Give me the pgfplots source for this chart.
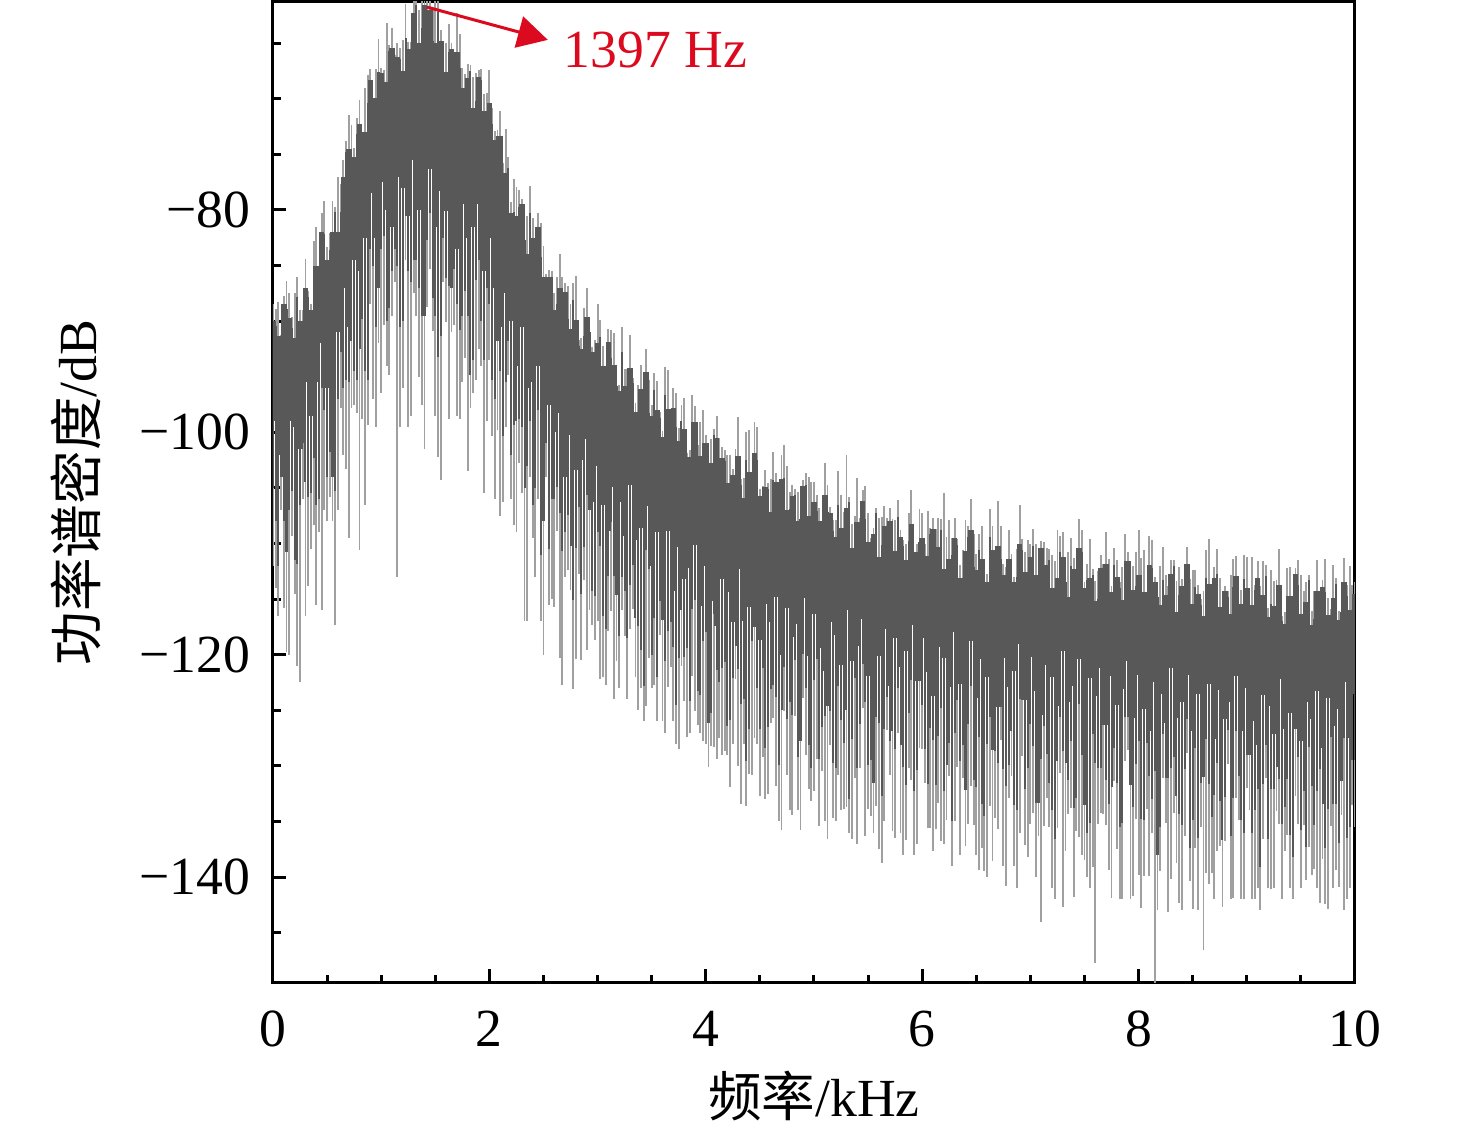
\documentclass[border=0pt]{standalone}
\usepackage{fontspec}
\setmainfont{Liberation Serif}
\newfontfamily\cjk{Noto Sans CJK SC}
\usepackage{pgfplots}
\usepackage{pgfplotstable}
\pgfplotsset{compat=1.18}
\usetikzlibrary{arrows.meta}
\definecolor{band}{RGB}{88,88,88}
\definecolor{spk}{RGB}{160,160,160}
\definecolor{annot}{RGB}{220,10,30}
\newcommand{\fs}{\fontsize{14.3}{17}\selectfont}
% u: top of solid band, s: bottom of solid band, f: dark fragment tip, t/b: light spike tips
\pgfplotstableread{
x u s f t b
0.00 -90.0 -99.0 -105.0 -88.5 -112.0
0.05 -91.3 -102.0 -112.0 -88.3 -116.5
0.10 -88.5 -104.0 -108.0 -87.7 -115.8
0.15 -89.7 -99.0 -107.0 -87.5 -120.0
0.20 -91.5 -99.5 -111.5 -87.5 -114.5
0.25 -90.0 -101.5 -106.5 -89.0 -122.5
0.30 -87.0 -95.5 -104.5 -84.4 -116.5
0.35 -89.0 -98.5 -105.5 -88.5 -110.5
0.40 -85.0 -95.5 -106.5 -81.5 -115.5
0.45 -82.0 -92.0 -96.0 -80.3 -116.0
0.50 -84.5 -96.0 -104.0 -83.3 -108.0
0.55 -82.0 -91.0 -104.0 -79.2 -108.0
0.60 -82.0 -91.0 -97.0 -77.0 -107.0
0.65 -77.0 -87.0 -96.0 -75.5 -102.0
0.70 -74.5 -90.5 -95.5 -71.5 -109.5
0.75 -75.2 -84.5 -94.5 -74.4 -97.5
0.80 -72.3 -85.5 -92.5 -70.1 -110.6
0.85 -73.0 -82.5 -94.5 -69.0 -106.5
0.90 -68.3 -78.5 -83.5 -67.3 -88.5
0.95 -69.9 -82.5 -90.5 -67.3 -99.5
1.00 -67.7 -77.5 -83.5 -67.2 -96.5
1.05 -68.5 -80.0 -90.0 -63.2 -94.0
1.10 -65.4 -81.5 -85.5 -63.6 -89.5
1.15 -66.2 -77.0 -85.0 -65.0 -113.0
1.20 -67.5 -78.0 -90.0 -64.7 -96.0
1.25 -65.5 -80.5 -85.5 -64.9 -99.5
1.30 -62.3 -75.5 -84.5 -60.8 -87.5
1.35 -65.0 -80.0 -87.0 -62.0 -95.0
1.40 -61.6 -78.5 -89.5 -60.0 -101.5
1.45 -62.0 -76.3 -80.3 -60.0 -85.3
1.50 -65.0 -81.5 -89.5 -61.0 -98.5
1.55 -64.8 -78.3 -91.3 -63.8 -104.3
1.60 -67.6 -80.1 -86.1 -65.0 -90.1
1.65 -65.5 -78.0 -87.0 -65.0 -91.0
1.70 -65.8 -83.5 -88.5 -62.3 -98.5
1.75 -69.0 -79.5 -89.5 -67.2 -95.5
1.80 -68.1 -82.5 -89.5 -66.9 -103.5
1.85 -70.8 -81.5 -93.5 -68.0 -96.5
1.90 -68.0 -79.5 -84.5 -67.4 -92.5
1.95 -71.1 -85.5 -93.5 -69.6 -105.5
2.00 -70.4 -82.5 -88.5 -67.4 -93.5
2.05 -73.7 -87.0 -97.0 -72.9 -106.0
2.10 -73.3 -90.5 -94.5 -71.1 -107.5
2.15 -76.7 -87.5 -95.5 -72.7 -99.5
2.20 -80.3 -90.0 -102.0 -79.3 -106.0
2.25 -80.5 -94.0 -99.0 -77.9 -109.0
2.30 -79.5 -90.5 -99.5 -79.0 -105.5
2.35 -84.0 -96.0 -103.0 -80.5 -117.0
2.40 -82.5 -95.5 -106.5 -80.7 -109.5
2.45 -81.5 -94.0 -98.0 -80.3 -106.0
2.50 -86.0 -100.0 -108.0 -83.2 -120.0
2.55 -86.0 -97.5 -110.5 -85.4 -115.5
2.60 -89.0 -100.0 -106.0 -87.5 -115.7
2.65 -87.0 -98.3 -107.3 -84.0 -120.3
2.70 -87.4 -104.0 -109.0 -86.6 -113.0
2.75 -90.7 -100.2 -110.2 -88.5 -114.2
2.80 -89.9 -103.4 -110.4 -85.9 -120.4
2.85 -92.5 -102.5 -114.5 -91.5 -120.5
2.90 -89.6 -100.6 -105.6 -87.0 -119.6
2.95 -92.8 -106.3 -114.3 -92.3 -117.3
3.00 -92.0 -103.0 -109.0 -88.5 -117.0
3.05 -94.0 -106.5 -116.5 -92.2 -122.0
3.10 -91.9 -108.9 -112.9 -90.7 -117.9
3.15 -93.9 -104.9 -112.9 -91.1 -124.0
3.20 -96.3 -106.3 -118.3 -95.7 -123.0
3.25 -95.8 -109.3 -114.3 -94.3 -118.3
3.30 -94.2 -104.7 -113.7 -91.2 -117.7
3.35 -98.2 -109.7 -116.7 -97.4 -122.0
3.40 -96.1 -108.6 -119.6 -93.9 -123.0
3.45 -94.6 -106.6 -110.6 -92.5 -124.6
3.50 -98.5 -112.0 -120.0 -97.5 -123.0
3.55 -98.0 -109.0 -122.0 -95.4 -126.0
3.60 -100.4 -110.9 -116.9 -99.9 -126.0
3.65 -97.9 -108.9 -117.9 -94.4 -122.9
3.70 -97.8 -114.3 -119.3 -96.0 -126.0
3.75 -100.8 -110.3 -120.3 -99.6 -128.5
3.80 -99.7 -113.2 -120.2 -96.9 -124.2
3.85 -102.2 -112.2 -124.2 -101.6 -127.0
3.90 -99.1 -110.1 -115.1 -97.6 -125.1
3.95 -102.1 -115.6 -123.6 -99.1 -127.0
4.00 -101.0 -112.0 -118.0 -100.2 -128.0
4.05 -102.8 -115.2 -125.2 -100.6 -128.2
4.10 -100.5 -117.4 -121.4 -98.5 -129.4
4.15 -102.3 -113.2 -121.2 -101.3 -129.0
4.20 -104.6 -114.4 -126.4 -102.0 -129.0
4.25 -103.8 -117.1 -122.1 -103.3 -128.0
4.30 -102.1 -112.3 -121.3 -98.6 -130.0
4.35 -105.9 -117.0 -124.0 -104.1 -128.0
4.40 -103.6 -115.7 -126.7 -99.8 -130.7
4.45 -101.9 -113.5 -117.5 -99.1 -127.5
4.50 -105.7 -118.7 -126.7 -105.1 -132.7
4.55 -104.9 -115.4 -128.4 -103.4 -133.0
4.60 -107.2 -117.1 -123.1 -104.2 -126.1
4.65 -104.5 -114.8 -123.8 -103.7 -131.8
4.70 -104.2 -120.0 -125.0 -102.0 -135.8
4.75 -107.0 -115.8 -125.8 -103.0 -130.8
4.80 -105.7 -118.4 -125.4 -104.7 -134.4
4.85 -108.0 -117.2 -129.2 -105.4 -134.0
4.90 -104.8 -114.9 -119.9 -104.3 -123.9
4.95 -107.5 -120.1 -128.1 -104.0 -132.1
5.00 -106.3 -116.3 -122.3 -104.5 -132.3
5.05 -108.0 -119.4 -129.4 -106.8 -135.4
5.10 -105.6 -121.5 -125.5 -102.8 -135.0
5.15 -107.3 -117.1 -125.1 -106.7 -128.1
5.20 -109.4 -118.2 -130.2 -107.9 -135.0
5.25 -108.6 -120.9 -125.9 -105.6 -134.0
5.30 -106.8 -116.0 -125.0 -102.0 -133.7
5.35 -110.4 -120.6 -127.6 -108.2 -136.6
5.40 -108.1 -119.2 -130.2 -104.1 -137.0
5.45 -106.2 -116.8 -120.8 -105.2 -124.8
5.50 -109.9 -121.9 -129.9 -107.3 -133.9
5.55 -109.1 -118.5 -131.5 -108.6 -136.0
5.60 -111.2 -120.1 -126.1 -107.7 -137.5
5.65 -108.4 -117.7 -126.7 -106.6 -135.0
5.70 -108.0 -122.8 -127.8 -106.8 -130.8
5.75 -110.7 -118.5 -128.5 -107.9 -136.5
5.80 -109.4 -121.1 -128.1 -108.8 -136.0
5.85 -111.5 -119.7 -131.7 -110.0 -136.7
5.90 -108.2 -117.3 -122.3 -105.2 -131.3
5.95 -110.8 -122.4 -130.4 -110.0 -137.0
6.00 -109.5 -118.5 -124.5 -107.3 -128.5
6.05 -111.1 -121.6 -131.6 -107.1 -135.6
6.10 -108.7 -123.7 -127.7 -107.7 -137.7
6.15 -110.3 -119.3 -127.3 -107.7 -133.3
6.20 -112.3 -120.3 -132.3 -105.5 -137.0
6.25 -111.4 -122.9 -127.9 -107.9 -130.9
6.30 -109.5 -118.0 -127.0 -107.7 -135.0
6.35 -113.1 -122.6 -129.6 -111.9 -138.0
6.40 -110.7 -121.2 -132.2 -107.9 -137.2
6.45 -108.8 -118.8 -122.8 -106.0 -131.8
6.50 -112.4 -123.9 -131.9 -110.9 -138.0
6.55 -111.4 -120.4 -133.4 -108.4 -137.4
6.60 -113.5 -122.0 -128.0 -112.7 -140.0
6.65 -110.6 -119.6 -128.6 -108.4 -138.6
6.70 -110.2 -124.7 -129.7 -106.2 -135.7
6.75 -112.8 -120.3 -130.3 -111.8 -139.0
6.80 -111.4 -122.9 -129.9 -108.8 -132.9
6.85 -113.5 -121.5 -133.5 -113.0 -139.0
6.90 -110.0 -119.0 -124.0 -106.5 -136.0
6.95 -112.6 -124.1 -132.1 -110.8 -137.1
7.00 -111.2 -120.2 -126.2 -110.0 -135.2
7.05 -112.8 -123.3 -133.3 -110.0 -140.0
7.10 -110.4 -125.4 -129.4 -109.8 -144.0
7.15 -111.9 -120.9 -128.9 -110.4 -132.9
7.20 -114.0 -122.0 -134.0 -111.0 -141.0
7.25 -113.1 -124.6 -129.6 -108.8 -135.6
7.30 -111.2 -119.7 -128.7 -109.0 -142.7
7.35 -114.8 -124.3 -131.3 -110.8 -134.3
7.40 -112.3 -122.8 -133.8 -111.3 -141.8
7.45 -110.4 -120.4 -124.4 -107.8 -136.4
7.50 -114.0 -125.5 -133.5 -113.5 -138.5
7.55 -113.1 -122.1 -135.1 -109.6 -141.0
7.60 -115.2 -123.7 -129.7 -113.4 -147.7
7.65 -112.2 -121.2 -130.2 -111.0 -134.2
7.70 -111.8 -126.3 -131.3 -109.0 -135.3
7.75 -114.4 -121.9 -131.9 -113.8 -141.9
7.80 -113.0 -124.5 -131.5 -111.5 -137.5
7.85 -115.1 -123.1 -135.1 -112.1 -142.0
7.90 -111.6 -120.6 -125.6 -110.8 -128.6
7.95 -114.2 -125.7 -133.7 -112.0 -141.7
8.00 -112.8 -121.8 -127.8 -108.8 -139.8
8.05 -114.4 -124.9 -134.9 -110.6 -139.9
8.10 -111.9 -126.9 -130.9 -109.3 -139.9
8.15 -113.5 -122.5 -130.5 -113.0 -152.0
8.20 -115.5 -123.5 -135.5 -112.0 -139.5
8.25 -114.6 -126.1 -131.1 -112.8 -135.1
8.30 -112.7 -121.2 -130.2 -111.5 -140.2
8.35 -116.2 -125.7 -132.7 -113.4 -138.7
8.40 -113.8 -124.3 -135.3 -113.2 -143.0
8.45 -111.8 -121.8 -125.8 -110.3 -128.8
8.50 -115.4 -126.9 -134.9 -112.4 -142.9
8.55 -114.5 -123.5 -136.5 -113.7 -143.0
8.60 -116.5 -125.0 -131.0 -114.3 -146.6
8.65 -113.6 -122.6 -131.6 -109.6 -140.6
8.70 -113.1 -127.6 -132.6 -112.1 -142.0
8.75 -115.7 -123.2 -133.2 -113.1 -137.2
8.80 -114.3 -125.8 -132.8 -113.8 -136.8
8.85 -116.3 -124.3 -136.3 -112.8 -142.0
8.90 -112.9 -121.9 -126.9 -111.1 -132.9
8.95 -115.4 -126.9 -134.9 -114.2 -142.0
9.00 -114.0 -123.0 -129.0 -111.2 -132.0
9.05 -115.5 -126.0 -136.0 -111.2 -142.0
9.10 -113.1 -128.1 -132.1 -111.6 -141.0
9.15 -114.6 -123.6 -131.6 -111.6 -136.6
9.20 -116.6 -124.6 -136.6 -115.8 -141.0
9.25 -115.6 -127.1 -132.1 -113.4 -141.0
9.30 -113.7 -122.2 -131.2 -110.5 -135.2
9.35 -117.2 -126.7 -133.7 -116.2 -137.7
9.40 -114.7 -125.2 -136.2 -112.1 -141.0
9.45 -112.7 -122.7 -126.7 -112.2 -132.7
9.50 -116.3 -127.8 -135.8 -112.8 -141.0
9.55 -115.3 -124.3 -137.3 -113.5 -140.3
9.60 -117.3 -125.8 -131.8 -116.1 -139.8
9.65 -114.3 -123.3 -132.3 -111.5 -141.0
9.70 -113.9 -128.4 -133.4 -113.3 -138.4
9.75 -116.4 -123.9 -133.9 -114.9 -142.9
9.80 -114.9 -126.4 -133.4 -111.9 -141.0
9.85 -116.9 -124.9 -136.9 -116.1 -140.9
9.90 -113.5 -122.5 -127.5 -111.3 -143.0
9.95 -116.0 -127.5 -135.5 -112.0 -141.0
10.00 -114.5 -123.5 -129.5 -113.5 -135.5
}\data
% between the band columns: dark spike hi..lo, light spike lt..lb
\pgfplotstableread{
x hi lo lt lb
0.025 -90.4 -108.0 -88.9 -114.0
0.075 -91.7 -104.0 -91.2 -107.0
0.125 -88.9 -110.8 -86.4 -119.8
0.175 -90.6 -105.3 -89.6 -109.3
0.225 -87.8 -111.8 -86.0 -121.0
0.275 -90.5 -101.0 -89.0 -106.0
0.325 -87.8 -105.8 -87.3 -113.8
0.375 -85.3 -102.3 -82.8 -108.3
0.425 -87.0 -106.0 -86.0 -109.0
0.475 -82.2 -98.0 -79.2 -107.0
0.525 -83.6 -101.8 -82.1 -105.8
0.575 -80.2 -105.3 -79.7 -117.3
0.625 -80.2 -92.8 -77.7 -97.8
0.675 -74.8 -95.3 -73.8 -103.3
0.725 -75.4 -91.8 -72.4 -97.8
0.775 -73.2 -95.3 -71.7 -98.3
0.825 -74.0 -89.8 -73.5 -98.8
0.875 -70.4 -95.3 -67.9 -99.3
0.925 -70.9 -85.0 -69.9 -97.0
0.975 -67.6 -87.0 -64.6 -92.0
1.025 -68.9 -82.3 -67.4 -90.3
1.075 -65.7 -88.8 -65.2 -94.8
1.125 -68.6 -83.5 -66.1 -86.5
1.175 -66.4 -90.5 -65.4 -99.5
1.225 -64.5 -80.5 -61.5 -84.5
1.275 -66.4 -86.5 -64.9 -98.5
1.325 -61.6 -84.5 -61.1 -89.5
1.375 -63.6 -89.5 -61.1 -97.5
1.425 -62.1 -82.7 -61.1 -88.7
1.475 -64.8 -87.9 -61.8 -90.9
1.525 -62.2 -93.2 -60.7 -102.2
1.575 -65.5 -82.5 -65.0 -86.5
1.625 -65.8 -86.8 -63.3 -98.8
1.675 -68.7 -85.3 -67.7 -90.3
1.725 -67.2 -90.8 -64.2 -98.8
1.775 -69.3 -87.3 -67.8 -93.3
1.825 -67.5 -94.8 -67.0 -97.8
1.875 -70.2 -86.3 -67.7 -95.3
1.925 -68.3 -90.0 -67.3 -94.0
1.975 -72.5 -87.0 -69.5 -99.0
2.025 -72.3 -95.3 -70.8 -100.3
2.075 -73.3 -91.8 -72.8 -99.8
2.125 -78.3 -100.3 -75.8 -106.3
2.175 -76.2 -91.8 -75.2 -94.8
2.225 -80.2 -99.3 -77.2 -108.3
2.275 -79.7 -98.8 -78.2 -102.8
2.325 -82.7 -105.0 -82.2 -117.0
2.375 -80.3 -99.0 -77.8 -104.0
2.425 -83.8 -105.0 -82.8 -113.0
2.475 -84.2 -111.0 -81.2 -117.0
2.525 -87.3 -101.0 -85.8 -104.0
2.575 -86.0 -106.0 -85.5 -115.0
2.625 -88.5 -104.9 -86.0 -108.9
2.675 -87.0 -110.7 -86.0 -122.7
2.725 -89.8 -107.4 -86.8 -112.4
2.775 -88.1 -115.1 -86.6 -123.1
2.825 -92.2 -106.7 -91.7 -112.7
2.875 -91.3 -110.3 -88.8 -113.3
2.925 -91.0 -107.0 -90.0 -116.0
2.975 -94.7 -114.7 -91.7 -118.7
3.025 -91.4 -110.2 -89.9 -122.2
3.075 -94.5 -117.7 -94.0 -122.7
3.125 -93.3 -108.1 -90.8 -116.1
3.175 -95.8 -114.6 -94.8 -120.6
3.225 -92.8 -113.0 -90.5 -116.0
3.275 -95.8 -118.5 -94.3 -124.0
3.325 -95.6 -111.9 -95.1 -115.9
3.375 -98.2 -117.4 -95.7 -125.0
3.425 -96.3 -122.8 -95.3 -126.0
3.475 -98.3 -112.3 -95.3 -120.3
3.525 -96.2 -116.7 -94.7 -122.7
3.575 -98.7 -115.2 -98.2 -118.2
3.625 -96.6 -120.6 -94.1 -127.0
3.675 -100.6 -117.1 -99.6 -121.1
3.725 -99.5 -124.5 -96.5 -128.0
3.775 -99.0 -116.0 -97.5 -121.0
3.825 -102.4 -119.4 -101.9 -127.4
3.875 -99.1 -115.9 -96.6 -121.9
3.925 -102.1 -123.3 -101.1 -126.3
3.975 -101.0 -118.8 -98.0 -127.8
4.025 -103.3 -126.1 -101.8 -130.1
4.075 -100.2 -116.3 -99.7 -128.3
4.125 -103.0 -122.5 -100.5 -127.5
4.175 -102.6 -120.7 -101.6 -128.7
4.225 -105.0 -125.9 -102.0 -131.9
4.275 -103.0 -119.2 -101.5 -122.2
4.325 -104.7 -124.4 -104.2 -133.4
4.375 -102.5 -129.6 -100.0 -133.6
4.425 -104.8 -118.8 -103.8 -130.8
4.475 -102.5 -123.0 -99.5 -128.0
4.525 -106.3 -121.2 -104.8 -129.2
4.575 -105.1 -126.5 -104.6 -132.5
4.625 -104.3 -122.7 -101.8 -125.7
4.675 -107.6 -129.9 -106.6 -135.0
4.725 -104.1 -121.1 -101.1 -125.1
4.775 -106.9 -124.3 -105.4 -134.0
4.825 -105.6 -120.5 -105.1 -125.5
4.875 -107.8 -127.8 -105.3 -135.8
4.925 -104.7 -123.0 -103.7 -129.0
4.975 -107.5 -130.2 -104.5 -133.2
5.025 -107.1 -120.4 -105.6 -129.4
5.075 -109.3 -126.5 -108.8 -130.5
5.125 -107.2 -124.6 -104.7 -136.6
5.175 -108.9 -129.7 -107.9 -134.7
5.225 -106.5 -122.8 -103.5 -130.8
5.275 -108.7 -127.9 -107.2 -133.9
5.325 -106.3 -133.0 -105.8 -136.0
5.375 -110.0 -122.1 -107.5 -131.1
5.425 -108.7 -126.2 -107.7 -130.2
5.475 -107.8 -124.3 -104.8 -136.3
5.525 -111.0 -129.5 -109.5 -134.5
5.575 -107.3 -125.6 -106.8 -133.6
5.625 -110.1 -132.7 -107.6 -138.7
5.675 -108.7 -123.8 -107.7 -126.8
5.725 -110.8 -126.9 -107.8 -135.9
5.775 -107.6 -123.0 -106.1 -127.0
5.825 -110.2 -130.1 -109.7 -138.0
5.875 -109.8 -125.2 -107.3 -130.2
5.925 -112.1 -132.3 -111.1 -138.0
5.975 -109.9 -122.4 -106.9 -128.4
6.025 -111.5 -128.5 -110.0 -131.5
6.075 -109.1 -126.6 -108.6 -135.6
6.125 -111.2 -131.7 -108.7 -135.7
6.175 -108.8 -124.8 -107.8 -136.8
6.225 -112.4 -129.9 -109.4 -134.9
6.275 -111.0 -135.0 -109.5 -139.0
6.325 -110.1 -124.1 -109.6 -130.1
6.375 -113.1 -128.1 -110.6 -131.1
6.425 -109.4 -126.2 -108.4 -135.2
6.475 -112.1 -131.3 -109.1 -135.3
6.525 -110.6 -127.4 -109.1 -139.4
6.575 -112.7 -134.5 -112.2 -139.5
6.625 -109.4 -125.6 -106.9 -133.6
6.675 -112.0 -128.7 -111.0 -134.7
6.725 -111.4 -124.7 -108.4 -127.7
6.775 -113.6 -131.8 -112.1 -140.8
6.825 -111.4 -126.9 -110.9 -130.9
6.875 -113.0 -134.0 -110.5 -141.0
6.925 -110.6 -124.1 -109.6 -129.1
6.975 -112.7 -130.2 -109.7 -138.2
7.025 -110.2 -128.2 -108.7 -134.2
7.075 -113.8 -133.3 -113.3 -136.3
7.125 -112.4 -126.4 -109.9 -135.4
7.175 -111.5 -131.5 -110.5 -135.5
7.225 -114.6 -136.6 -111.6 -142.0
7.275 -110.8 -125.6 -109.3 -130.6
7.325 -113.5 -129.7 -113.0 -137.7
7.375 -112.0 -127.8 -109.5 -133.8
7.425 -114.1 -132.9 -113.1 -135.9
7.475 -110.8 -129.0 -108.8 -138.0
7.525 -113.3 -136.0 -111.8 -140.0
7.575 -112.8 -127.1 -112.3 -139.1
7.625 -115.0 -130.2 -112.5 -135.2
7.675 -112.8 -126.3 -111.8 -134.3
7.725 -114.4 -133.4 -111.4 -139.4
7.775 -111.9 -128.4 -110.4 -131.4
7.825 -114.0 -135.5 -113.5 -142.0
7.875 -111.6 -125.6 -109.1 -129.6
7.925 -115.2 -131.7 -114.2 -142.0
7.975 -113.8 -129.8 -110.8 -134.8
8.025 -112.8 -134.8 -111.3 -142.8
8.075 -115.9 -127.9 -115.4 -133.9
8.125 -112.2 -133.0 -109.7 -136.0
8.175 -114.8 -138.0 -113.8 -143.0
8.225 -113.3 -127.1 -110.3 -131.1
8.275 -115.3 -131.1 -113.8 -143.1
8.325 -112.0 -129.2 -111.5 -134.2
8.375 -114.6 -134.3 -112.1 -142.3
8.425 -114.0 -130.3 -113.0 -136.3
8.475 -116.2 -137.4 -113.2 -140.4
8.525 -113.9 -128.4 -112.4 -137.4
8.575 -115.5 -131.5 -115.0 -135.5
8.625 -113.1 -127.6 -110.6 -139.6
8.675 -115.1 -134.6 -114.1 -139.6
8.725 -112.7 -129.7 -110.5 -137.7
8.775 -116.2 -136.7 -114.7 -142.7
8.825 -114.8 -126.8 -114.3 -129.8
8.875 -113.9 -132.9 -111.4 -141.9
8.925 -116.9 -130.9 -115.9 -134.9
8.975 -113.2 -136.0 -111.0 -142.0
9.025 -115.8 -129.0 -114.3 -134.0
9.075 -114.2 -134.0 -113.7 -142.0
9.125 -116.3 -139.1 -113.8 -143.0
9.175 -112.9 -128.1 -111.9 -131.1
9.225 -115.4 -132.1 -112.4 -141.1
9.275 -114.8 -130.1 -113.3 -134.1
9.325 -117.0 -135.2 -116.5 -142.0
9.375 -114.7 -131.2 -112.2 -136.2
9.425 -116.2 -138.2 -115.2 -142.0
9.475 -113.7 -129.2 -111.5 -135.2
9.525 -115.8 -132.3 -114.3 -135.3
9.575 -113.3 -128.3 -112.8 -137.3
9.625 -116.8 -135.3 -114.3 -139.3
9.675 -115.3 -130.3 -114.3 -142.3
9.725 -114.4 -137.4 -111.4 -142.4
9.775 -117.4 -127.4 -115.9 -135.4
9.825 -113.6 -133.4 -113.1 -139.4
9.875 -116.2 -131.4 -113.7 -134.4
9.925 -114.7 -136.5 -113.7 -142.0
9.975 -116.7 -129.5 -113.7 -133.5
}\datab
\begin{document}
\begin{tikzpicture}
\begin{axis}[
  scale only axis,
  width=288.53pt, height=261.6pt,
  xmin=0, xmax=10, ymin=-149.53, ymax=-61.29,
  axis line style={line width=0.8pt},
  every tick/.style={line width=0.8pt, black},
  tick align=inside,
  xtick pos=bottom, ytick pos=left,
  major tick length=3.6pt, minor tick length=2.2pt,
  xtick={0,2,4,6,8,10},
  xticklabels={0,2,4,6,8,10},
  minor xtick={0.5,1,1.5,2.5,3,3.5,4.5,5,5.5,6.5,7,7.5,8.5,9,9.5},
  ytick={-140,-120,-100,-80},
  yticklabels={−140,−120,−100,−80},
  minor ytick={-145,-135,-130,-125,-115,-110,-105,-95,-90,-85,-75,-70,-65},
  xticklabel style={font=\fs, anchor=base, inner sep=0pt, yshift=-17pt},
  yticklabel style={font=\fs, anchor=east, inner sep=0pt, xshift=-5.9pt},
  xlabel={{\cjk 频率}/kHz},
  ylabel={{\cjk 功率谱密度}/dB},
  xlabel style={font=\fs, at={(axis description cs:0.5,-0.1366)}, anchor=base, inner sep=0pt},
  ylabel style={font=\fs, at={(axis description cs:-0.1627,0.5)}, anchor=base, inner sep=0pt},
  clip=true,
]
% light spikes
\addplot[draw=none, mark=none,
  error bars/.cd, y dir=both, y explicit, error mark=none,
  error bar style={draw=spk, line width=0.5pt}]
  table[x=x, y=u, y error plus expr=\thisrow{t}-\thisrow{u}, y error minus expr=\thisrow{u}-\thisrow{b}] {\data};
\addplot[draw=none, mark=none,
  error bars/.cd, y dir=both, y explicit, error mark=none,
  error bar style={draw=spk, line width=0.5pt}]
  table[x=x, y=hi, y error plus expr=\thisrow{lt}-\thisrow{hi}, y error minus expr=\thisrow{hi}-\thisrow{lb}] {\datab};
% solid dark band
\addplot[draw=none, mark=none,
  error bars/.cd, y dir=minus, y explicit, error mark=none,
  error bar style={draw=band, line width=1.5pt}]
  table[x=x, y=u, y error minus expr=\thisrow{u}-\thisrow{s}] {\data};
% dark fragments below the band
\addplot[draw=none, mark=none,
  error bars/.cd, y dir=minus, y explicit, error mark=none,
  error bar style={draw=band, line width=0.55pt}]
  table[x=x, y=s, y error minus expr=\thisrow{s}-\thisrow{f}] {\data};
% thin dark spikes in between
\addplot[draw=none, mark=none,
  error bars/.cd, y dir=minus, y explicit, error mark=none,
  error bar style={draw=band, line width=0.55pt}]
  table[x=x, y=hi, y error minus expr=\thisrow{hi}-\thisrow{lo}] {\datab};
\draw[annot, line width=0.8pt, -{Triangle[length=8pt, width=8.5pt]}] (axis cs:1.423,-61.75) -- (axis cs:2.54,-64.7);
\node[annot, font=\fs, anchor=base west, inner sep=0pt] at (axis cs:2.68,-67.2) {1397 Hz};
\end{axis}
\path (-72.8pt,-40.53pt) rectangle (320.8pt,262.13pt);
\end{tikzpicture}
\end{document}
